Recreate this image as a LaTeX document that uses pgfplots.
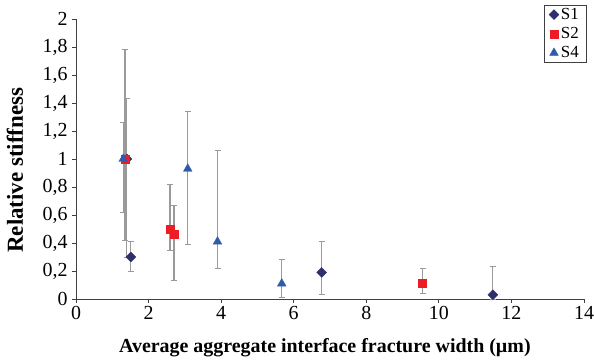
\documentclass[border=0pt]{standalone}
\usepackage{pgfplots}
\pgfplotsset{compat=1.18}
\usepackage{pgfplotstable}
\usepackage{fontspec}
\setmainfont{Liberation Serif}
\definecolor{cS1}{HTML}{2E2F6B}
\definecolor{cS2}{HTML}{ED1C24}
\definecolor{cS4}{HTML}{2D5DAA}
\definecolor{ebar}{HTML}{9A9A9A}
\newcommand{\tickfont}{\rmfamily\fontsize{20}{22}\selectfont}
\pgfplotstableread{
x y ep em
1.40 1.00 0.43 0.70
1.51 0.30 0.11 0.10
6.77 0.19 0.22 0.16
11.49 0.03 0.20 0.03
}\sone
\pgfplotstableread{
x y ep em
1.35 1.00 0.78 0.58
2.59 0.50 0.32 0.15
2.70 0.46 0.21 0.33
9.55 0.11 0.11 0.07
}\stwo
\pgfplotstableread{
x y ep em
1.30 1.00 0.26 0.38
3.08 0.93 0.41 0.54
3.90 0.41 0.65 0.19
5.67 0.11 0.17 0.10
}\sfour
\begin{document}
\begin{tikzpicture}
\path[use as bounding box] (-76bp,-62bp) rectangle (518bp,299bp);
\begin{axis}[
  scale only axis,
  width=508bp, height=280bp,
  xmin=0, xmax=14, ymin=0, ymax=2,
  xtick={0,2,...,14},
  ytick={0,0.2,...,2},
  axis x line*=bottom, axis y line*=left,
  axis line style={black!75, line width=0.8pt},
  tick style={black!75, line width=0.8pt},
  tick align=outside,
  major tick length=4bp,
  /pgf/number format/use comma,
  /pgf/number format/fixed,
  xticklabel={\tickfont\pgfmathprintnumber[assume math mode=true]{\tick}},
  yticklabel={\tickfont\pgfmathprintnumber[assume math mode=true]{\tick}},
  yticklabel style={xshift=-1bp},
  xlabel={\textbf{Average aggregate interface fracture width (µm)}},
  ylabel={\textbf{Relative stiffness}},
  xlabel style={font=\rmfamily\fontsize{20}{22}\selectfont, at={(axis description cs:0.49,-0.175)}, anchor=center},
  ylabel style={font=\rmfamily\fontsize{23}{25}\selectfont, at={(axis description cs:-0.120,0.46)}, anchor=center},
  clip=false,
  legend style={at={(1.004,1.05)}, anchor=north east, draw=black!75,
    font=\rmfamily\fontsize{17}{19}\selectfont, inner ysep=1bp, inner xsep=5bp, row sep=2.5bp,
    legend cell align=left},
  legend image code/.code={\draw[#1] (0bp,0bp) -- plot coordinates {(0bp,0bp)};},
  error bars/y dir=both, error bars/y explicit,
  error bars/error bar style={ebar, line width=1.1pt},
  error bars/error mark options={ebar, rotate=90, mark size=3bp, line width=0.8pt},
]
\addplot[only marks, mark=square*, mark size=3.5bp, mark options={rotate=45, fill=cS1, draw=cS1}]
  table[x=x, y=y, y error plus=ep, y error minus=em] {\sone};
\addlegendentry{S1}
\addplot[only marks, mark=square*, mark size=4bp, mark options={fill=cS2, draw=cS2}]
  table[x=x, y=y, y error plus=ep, y error minus=em] {\stwo};
\addlegendentry{S2}
\addplot[only marks, mark=triangle*, mark size=5bp, mark options={fill=cS4, draw=cS4}]
  table[x=x, y=y, y error plus=ep, y error minus=em] {\sfour};
\addlegendentry{S4}
\end{axis}
\end{tikzpicture}
\end{document}
